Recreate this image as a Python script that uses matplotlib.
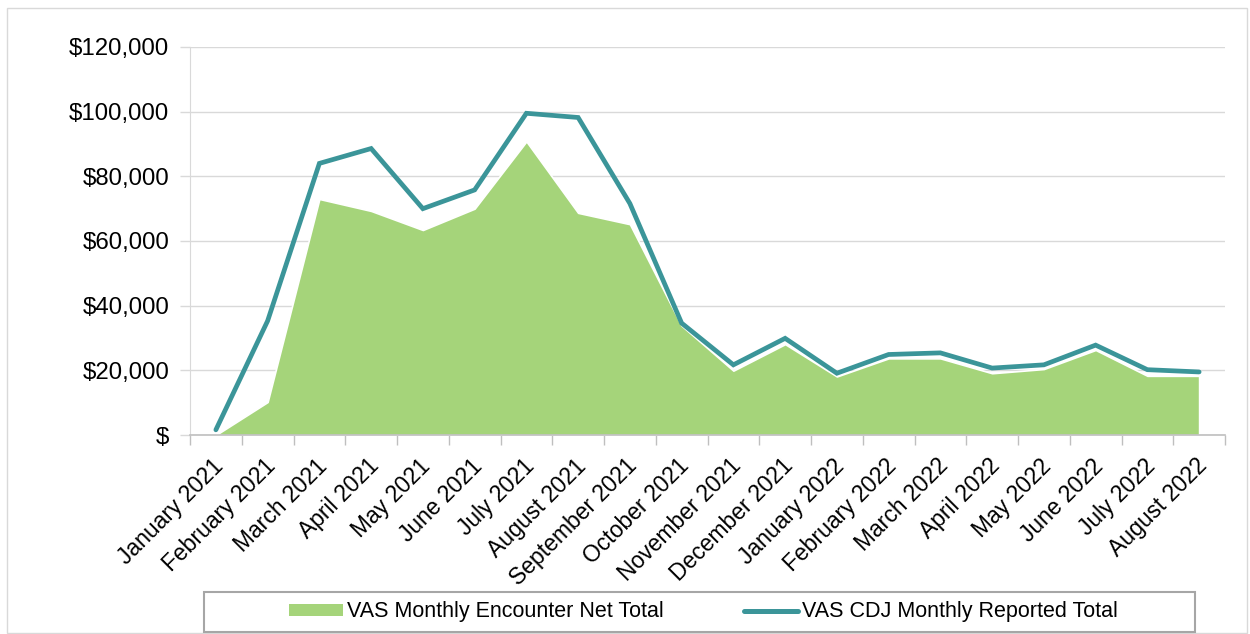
import matplotlib
matplotlib.use("Agg")
import matplotlib.pyplot as plt
import numpy as np
from matplotlib.patches import Rectangle, Patch
from matplotlib.lines import Line2D
from matplotlib.ticker import FuncFormatter, MultipleLocator, FixedLocator
from matplotlib.transforms import ScaledTranslation

plt.rcParams['font.family'] = ['Liberation Sans', 'DejaVu Sans']

months = ["January 2021", "February 2021", "March 2021", "April 2021", "May 2021",
          "June 2021", "July 2021", "August 2021", "September 2021", "October 2021",
          "November 2021", "December 2021", "January 2022", "February 2022",
          "March 2022", "April 2022", "May 2022", "June 2022", "July 2022", "August 2022"]

encounter_net = [0, 10200, 73000, 69300, 63400, 70000, 90800, 68700, 65200, 33800,
                 19900, 28100, 18100, 23700, 23700, 19100, 20400, 26300, 18300, 18300]

cdj_reported = [1600, 35300, 84000, 88600, 70000, 75800, 99500, 98200, 71600, 34600,
                21700, 29900, 19100, 24900, 25400, 20700, 21700, 27800, 20200, 19500]

area_label = "VAS Monthly Encounter Net Total"
line_label = "VAS CDJ Monthly Reported Total"

green = "#A5D47A"
teal = "#3B9599"

W, H = 1250, 634
fig = plt.figure(figsize=(W / 100, H / 100), dpi=100)
ax = fig.add_axes([190/W, 1-435/H, (1225-190)/W, (435-47)/H])

x = np.arange(len(months))
ax.fill_between(x, encounter_net, 0, color=green, edgecolor="white", linewidth=1.2, zorder=2)
ax.plot(x, cdj_reported, color=teal, linewidth=3.4, solid_capstyle="round",
        solid_joinstyle="miter", zorder=3)

ax.set_xlim(-0.5, len(months) - 0.5)
ax.set_ylim(0, 120000)
ax.yaxis.set_major_locator(MultipleLocator(20000))
ax.yaxis.set_major_formatter(FuncFormatter(lambda v, p: "$" if v == 0 else f"${v:,.0f}"))
ax.grid(axis="y", color="#D9D9D9", linewidth=1.0, zorder=0)
ax.set_axisbelow(True)

ax.set_xticks(x)
ax.set_xticklabels(months, rotation=45, ha="right", rotation_mode="anchor")
ax.xaxis.set_minor_locator(FixedLocator(np.arange(-0.5, len(months), 1.0)))
ax.tick_params(axis="x", which="major", length=0, pad=14, labelsize=16.5)
ax.tick_params(axis="x", which="minor", length=7, color="#BFBFBF", width=1)
ax.tick_params(axis="y", length=7, color="#D9D9D9", width=1, labelsize=17.3, pad=8)
shift = ScaledTranslation(-4/100, 0, fig.dpi_scale_trans)
for lbl in ax.get_xticklabels():
    lbl.set_transform(lbl.get_transform() + shift)

for s in ["top", "right"]:
    ax.spines[s].set_visible(False)
ax.spines["left"].set_color("#D9D9D9")
ax.spines["bottom"].set_color("#BFBFBF")
ax.spines["bottom"].set_linewidth(1.2)

handles = [Patch(facecolor=green, edgecolor="none", label=area_label),
           Line2D([0], [0], color=teal, linewidth=3.6, solid_capstyle="round", label=line_label)]
leg = fig.legend(handles=handles, loc="center", bbox_to_anchor=(703.5/W, 1-612/H),
                 ncol=2, frameon=False, prop={"size": 15.5},
                 columnspacing=3.7, handlelength=2.5, handleheight=0.5,
                 handletextpad=0.2, borderpad=0, borderaxespad=0)

fig.patches.append(Rectangle((204/W, 1-632/H), (1195-204)/W, (632-592)/H,
                             transform=fig.transFigure, fill=False,
                             edgecolor="#A6A6A6", linewidth=1.5, zorder=1))

fig.patches.append(Rectangle((7/W, 1-633/H), (1247-7)/W, (633-8)/H,
                             transform=fig.transFigure, fill=False,
                             edgecolor="#D9D9D9", linewidth=1, zorder=0))

fig.savefig("out.png", dpi=100)
